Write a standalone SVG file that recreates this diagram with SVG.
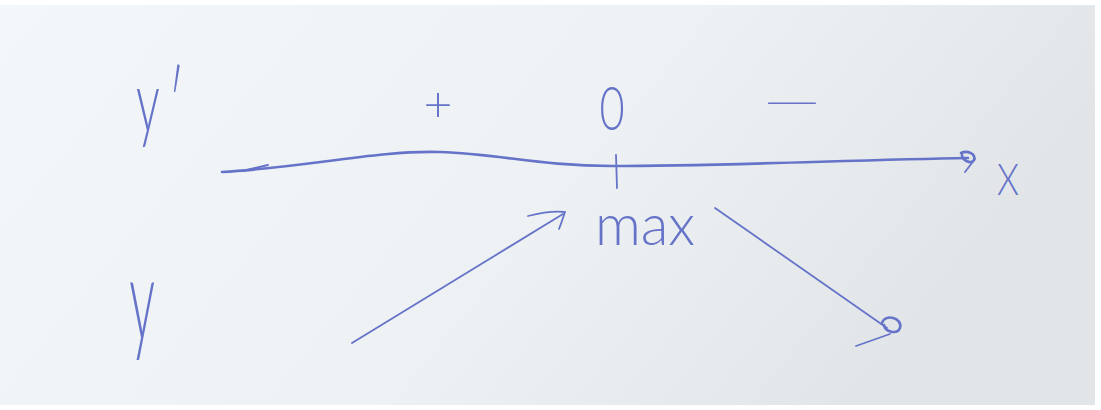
<svg xmlns="http://www.w3.org/2000/svg" width="1101" height="410" viewBox="0 0 1101 410">
<defs>
<linearGradient id="bg" x1="0" y1="0" x2="1" y2="0.3">
<stop offset="0" stop-color="#f4f7fa"/>
<stop offset="0.6" stop-color="#eef1f4"/>
<stop offset="1" stop-color="#e2e5e8"/>
</linearGradient>
<style>
.ink{fill:none;stroke:#6573c8;stroke-linecap:round;stroke-linejoin:round}
.thin{stroke-width:1.8}
.med{stroke-width:2.6}
.lbl{font-family:"Lato","Liberation Sans",Arial,sans-serif;font-weight:300;fill:#6573c8}
</style>
</defs>
<rect x="0" y="0" width="1101" height="410" fill="#ffffff"/>
<rect x="0" y="5" width="1095" height="400" fill="url(#bg)"/>

<g id="label-yprime">
<text class="lbl" font-size="86" transform="translate(160,132) scale(0.55,1)" text-anchor="middle">y<tspan font-size="90" dx="16" dy="6">′</tspan></text>
</g>
<g id="label-plus">
<text class="lbl" font-size="50" x="438" y="122" text-anchor="middle">+</text>
</g>
<g id="label-zero">
<text class="lbl" font-size="62" transform="translate(612,130) scale(0.7,1)" text-anchor="middle">0</text>
</g>
<g id="label-minus">
<text class="lbl" font-size="46" transform="translate(792,116) scale(1.6,1)" text-anchor="middle">—</text>
</g>
<g id="label-x">
<text class="lbl" font-size="44" transform="translate(1008,195) scale(0.8,1)" text-anchor="middle">X</text>
</g>
<g id="label-max">
<text class="lbl" font-size="57" x="645" y="245" text-anchor="middle">max</text>
</g>
<g id="label-y">
<text class="lbl" font-size="114" transform="translate(142,340) scale(0.45,1)" text-anchor="middle">y</text>
</g>

<g id="connectors">
<path class="ink med" d="M222,172 C300,168 380,150 440,152 C500,154 540,166 612,166 C720,166 850,160 968,158"/>
<path class="ink thin" d="M242,171 L268,165"/>
<path class="ink med" d="M961,153 C968,150 976,154 974,160 C971,165 962,160 962,155"/>
<path class="ink thin" d="M975,159 L965,172"/>
<path class="ink thin" d="M616,155 L617,188"/>
<path class="ink thin" d="M352,343 L563,214"/>
<path class="ink thin" d="M528,216 C540,213 555,211 565,212 C563,218 561,224 559,229"/>
<path class="ink thin" d="M715,208 L887,328"/>
<path class="ink med" d="M882,323 C885,313 903,318 900,328 C897,335 885,332 884,325"/>
<path class="ink thin" d="M856,346 L890,334"/>
</g>
</svg>
